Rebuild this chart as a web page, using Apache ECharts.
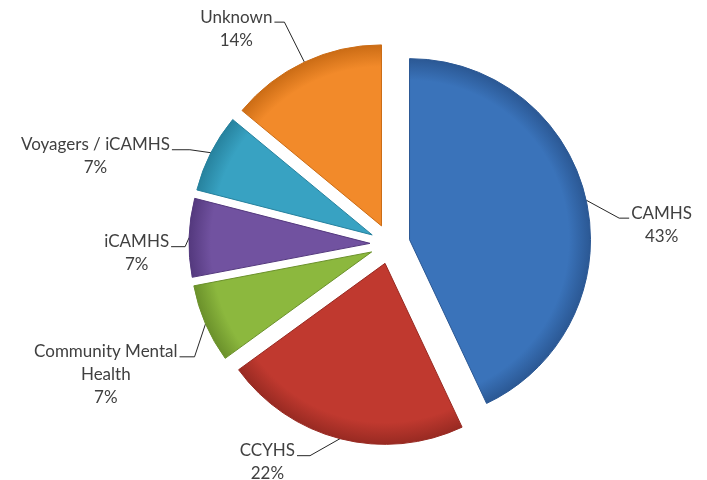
<!DOCTYPE html>
<html>
<head>
<meta charset="utf-8">
<script src="https://cdn.jsdelivr.net/npm/echarts@6/dist/echarts.min.js"></script>
<style>
  html, body { margin: 0; padding: 0; background: #ffffff; }
  #chart { width: 707px; height: 480px; }
</style>
</head>
<body>
<div id="chart"></div>
<script>
// Referral source shares (percent of total)
const categories = ['CAMHS', 'CCYHS', 'Community Mental Health', 'iCAMHS', 'Voyagers / iCAMHS', 'Unknown'];
const shares = [43, 22, 7, 7, 7, 14];

// Fill colours and darker rim shades for the bevelled look
const sliceColors = ['#3A73BA', '#C0392F', '#8CB83E', '#7152A0', '#38A2C2', '#F28A2A'];
const rimColors   = ['#2B5894', '#982A22', '#6B912B', '#54397E', '#27829E', '#CB6C15'];

// Leader line shape per slice: bend offset from the rim anchor, then horizontal tail
const leaderBend = [[33, 18], [-30, 17], [-11, 33], [-4, 9], [-21, -3], [-20, -40]];
const leaderTail = [10, -13, -15, -14, -18, -10];

const CENTER_X = 390, CENTER_Y = 244, RADIUS = 181;
const EXPLODE = 20;
const LINE_H = 23;

// Long names wrap onto a second line at the last space
function wrapName(name) {
  if (name.length <= 18) return name;
  const cut = name.lastIndexOf(' ');
  return name.slice(0, cut) + '\n' + name.slice(cut + 1);
}

const pieData = categories.map(function (name, i) {
  return {
    name: name,
    value: shares[i],
    selected: true,
    itemStyle: {
      color: {
        type: 'radial', x: CENTER_X, y: CENTER_Y, r: RADIUS, global: true,
        colorStops: [
          { offset: 0, color: sliceColors[i] },
          { offset: 0.88, color: sliceColors[i] },
          { offset: 1, color: rimColors[i] }
        ]
      },
      borderColor: rimColors[i],
      borderWidth: 1
    }
  };
});

const chart = echarts.init(document.getElementById('chart'), null, { renderer: 'canvas' });

chart.setOption({
  animation: false,
  backgroundColor: '#ffffff',
  series: [{
    type: 'pie',
    center: [CENTER_X, CENTER_Y],
    radius: RADIUS,
    startAngle: 90,
    clockwise: true,
    selectedMode: 'multiple',
    selectedOffset: EXPLODE,
    avoidLabelOverlap: false,
    data: pieData,
    label: {
      show: true,
      position: 'outside',
      formatter: function (p) { return wrapName(p.name) + '\n' + p.value + '%'; },
      fontFamily: 'Lato',
      fontSize: 17,
      lineHeight: LINE_H,
      color: '#404040'
    },
    labelLine: {
      show: true,
      length: 20,
      length2: 10,
      lineStyle: { color: '#262626', width: 1 }
    },
    // Re-route each leader line and centre the label text block at its tail
    labelLayout: function (p) {
      const pts = p.labelLinePoints;
      if (!pts) return {};
      const i = p.dataIndex;
      const start = pts[0];
      const bend = [start[0] + leaderBend[i][0], start[1] + leaderBend[i][1]];
      const end = [bend[0] + leaderTail[i], bend[1]];
      const r = p.labelRect;
      const defaultRight = pts[2][0] > pts[1][0];
      const anchorX = defaultRight ? r.x : r.x + r.width;
      const gap = 2;
      const wantCx = leaderTail[i] > 0 ? end[0] + gap + r.width / 2 : end[0] - gap - r.width / 2;
      const wantCy = end[1] - 5 - LINE_H / 2 + r.height / 2;
      return {
        dx: wantCx - anchorX,
        dy: wantCy - (r.y + r.height / 2),
        align: 'center',
        labelLinePoints: [start, bend, end]
      };
    },
    emphasis: { disabled: true }
  }]
});
</script>
</body>
</html>
